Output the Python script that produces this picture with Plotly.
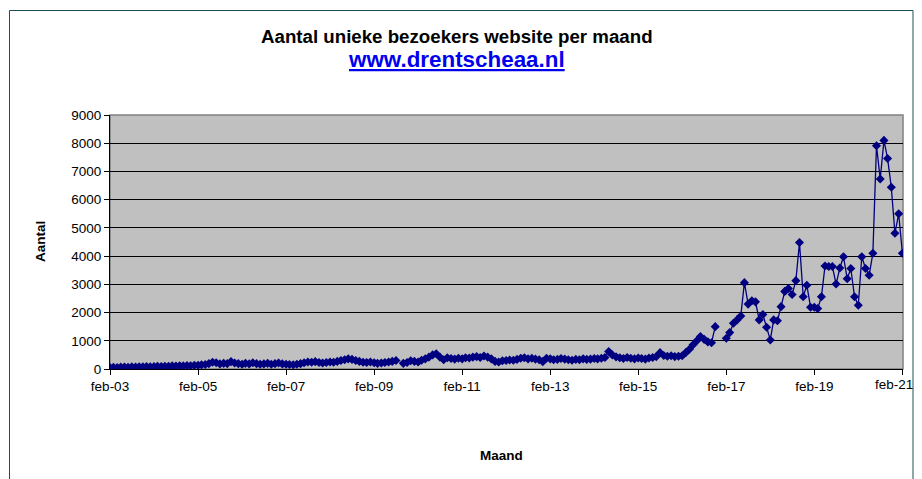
import plotly.graph_objects as go
import pandas as pd

# ---- data (monthly unique visitors, feb-2003 .. feb-2021) ----
start_month = "2003-02-01"

visitors_2003_2005 = [50, 60, 55, 65, 70, 60, 75, 70, 80, 75, 85, 80, 90, 95, 85, 100,
                      95, 110, 105, 115, 110, 120, 115, 130, 135]
visitors_2005_2007 = [150, 160, 190, 240, 220, 180, 200, 190, 260, 210, 190, 170, 200, 180,
                      220, 190, 170, 180, 200, 170, 190, 210, 180]
visitors_2007_2009 = [170, 160, 150, 170, 190, 220, 250, 240, 260, 230,
                      210, 230, 250, 240, 270, 300, 330, 360, 340, 300, 270, 240, 230, 250,
                      220, 200, 210, 230, 250, 270, 300]
visitors_gap_2009 = [None]
visitors_2009_2011 = [200, 230, 290, 270, 250, 310, 360, 420, 500, 540, 420, 330, 400, 370,
                      350, 380, 360, 400, 390, 420, 440, 410, 460, 420, 360]
visitors_2011_2014 = [270, 250, 290, 300, 320, 310, 340, 380, 400, 360, 380, 350, 330, 260,
                      380, 360, 330, 340, 370, 350, 330, 310, 340, 330, 360, 340, 350, 370,
                      360, 380, 410]
visitors_2014_2016 = [620, 500, 430, 400, 370, 410, 380, 360, 390, 370, 350, 390, 410, 440,
                      580, 480, 450, 470, 440, 450, 470, 580, 700, 860, 1000, 1150, 1050,
                      960, 930, 1500]
visitors_gap_2016 = [None, None]
visitors_2017_2021 = [1090, 1290, 1620, 1740, 1880, 3060, 2300, 2420, 2380, 1740, 1930, 1480,
                      1030, 1740, 1710, 2210, 2750, 2850, 2640, 3130, 4480, 2560, 2970, 2190,
                      2190, 2140, 2560, 3650, 3630, 3630, 3010, 3580, 3980, 3200, 3560, 2560,
                      2260, 3980, 3560, 3320, 4100, 7910, 6730, 8100, 7460, 6440, 4810, 5500,
                      4100]

tick_dates = ["2003-02-01", "2005-02-01", "2007-02-01", "2009-02-01", "2011-02-01",
              "2013-02-01", "2015-02-01", "2017-02-01", "2019-02-01", "2021-02-01"]
tick_labels = ["feb-03", "feb-05", "feb-07", "feb-09", "feb-11",
               "feb-13", "feb-15", "feb-17", "feb-19", "feb-21"]
y_ticks = [0, 1000, 2000, 3000, 4000, 5000, 6000, 7000, 8000, 9000]

title_text = "Aantal unieke bezoekers website per maand"
link_text = "www.drentscheaa.nl"
y_title = "Aantal"
x_title = "Maand"

values = (visitors_2003_2005 + visitors_2005_2007 + visitors_2007_2009 + visitors_gap_2009
          + visitors_2009_2011 + visitors_2011_2014 + visitors_2014_2016 + visitors_gap_2016
          + visitors_2017_2021)
months = pd.date_range(start=start_month, periods=len(values), freq="MS")

FONT = "Liberation Sans, Arial, sans-serif"
NAVY = "#000080"
TICK_SIZE = 13.5

fig = go.Figure()
fig.add_trace(go.Scatter(
    x=months, y=values, mode="lines+markers",
    line=dict(color=NAVY, width=1.3),
    marker=dict(symbol="diamond", size=7, color=NAVY),
    connectgaps=False, showlegend=False,
))

# page body margin offsets the figure by 8px; keep the figure inside the body width
OFF = 8
VIEW_W, VIEW_H = 922, 479
# plot-area geometry in window pixels
L, R, T, B = 110, 903, 115, 369
W, H = VIEW_W - 2 * OFF, VIEW_H - OFF


def px(x):
    return (x - L) / (R - L)


def py(y):
    return (B - y) / (B - T)


# last tick label would run past the figure edge: draw it as a right-aligned annotation
axis_ticktext = tick_labels[:-1] + [""]

fig.update_layout(
    width=W, height=H,
    margin=dict(l=L - OFF, r=(OFF + W) - R, t=T - OFF, b=(OFF + H) - B, pad=0),
    paper_bgcolor="white",
    plot_bgcolor="#C0C0C0",
    font=dict(family=FONT, size=TICK_SIZE, color="black"),
    xaxis=dict(
        type="date",
        range=["2003-02-01", "2021-02-06"],
        tickvals=tick_dates, ticktext=axis_ticktext,
        ticks="outside", ticklen=5, tickcolor="black", tickwidth=1,
        showgrid=False, showline=True, linecolor="black", linewidth=1,
        zeroline=False, tickfont=dict(size=TICK_SIZE),
    ),
    yaxis=dict(
        range=[0, 9000], tickvals=y_ticks,
        ticks="outside", ticklen=5, tickcolor="black", tickwidth=1,
        showgrid=True, gridcolor="black", gridwidth=1,
        showline=True, linecolor="black", linewidth=1,
        zeroline=False, tickfont=dict(size=TICK_SIZE),
    ),
    shapes=[
        # plot area border (top / right in gray)
        dict(type="rect", xref="paper", yref="paper", x0=0, x1=1, y0=0, y1=1,
             line=dict(color="#808080", width=1.5), layer="between"),
        # chart area frame
        dict(type="rect", xref="paper", yref="paper",
             x0=px(9.5), x1=px(913), y0=py(10.5), y1=py(490),
             line=dict(color="#1F4F5A", width=1), layer="below"),
    ],
    annotations=[
        dict(text=tick_labels[-1], xref="x", yref="paper",
             x=tick_dates[-1], y=py(384.5), xanchor="right", yanchor="middle",
             xshift=13, showarrow=False,
             font=dict(family=FONT, size=TICK_SIZE, color="black")),
        dict(text="<b>" + title_text + "</b>", xref="paper", yref="paper",
             x=px(457), y=py(36), xanchor="center", yanchor="middle",
             showarrow=False, font=dict(family=FONT, size=18.7, color="black")),
        dict(text="<b><u>" + link_text + "</u></b>", xref="paper", yref="paper",
             x=px(456), y=py(60), xanchor="center", yanchor="middle",
             showarrow=False, font=dict(family=FONT, size=22.4, color="#0000EE")),
        dict(text="<b>" + y_title + "</b>", xref="paper", yref="paper",
             x=px(40), y=py(242), xanchor="center", yanchor="middle", textangle=-90,
             showarrow=False, font=dict(family=FONT, size=13.5, color="black")),
        dict(text="<b>" + x_title + "</b>", xref="paper", yref="paper",
             x=px(501), y=py(455), xanchor="center", yanchor="middle",
             showarrow=False, font=dict(family=FONT, size=13.5, color="black")),
    ],
)

fig.write_html("out.html")
